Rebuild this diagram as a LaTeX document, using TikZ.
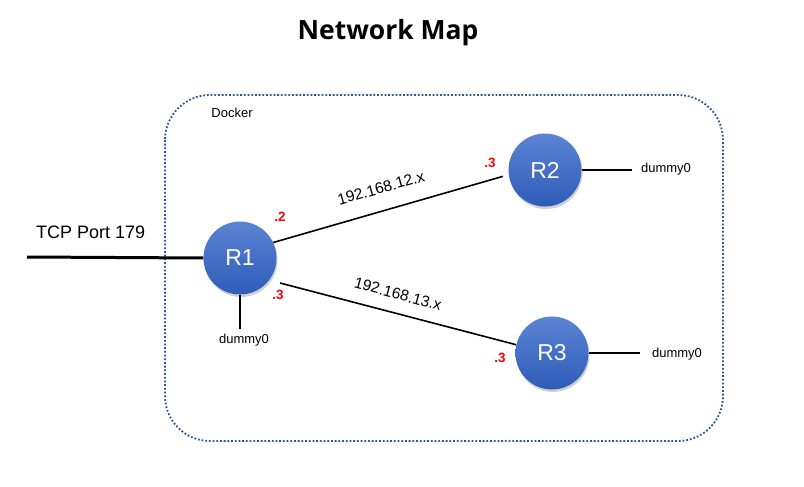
\documentclass[tikz,border=0pt]{standalone}
\usepackage{fontspec}
\setmainfont{Liberation Sans}
\newfontfamily\titlefont{Open Sans}
\usetikzlibrary{shadows,calc}
\definecolor{dockerblue}{HTML}{2F5597}
\definecolor{rtop}{HTML}{5C84D4}
\definecolor{rbot}{HTML}{2E5CB8}
\definecolor{ipred}{HTML}{FF0000}
\begin{document}
\begin{tikzpicture}[x=1pt,y=-1pt,
  router/.style={circle, minimum size=73pt, inner sep=0pt, top color=rtop, bottom color=rbot,
    text=white, font=\fontsize{23}{23}\selectfont,
    drop shadow={shadow xshift=1pt, shadow yshift=-2.5pt, opacity=.3, fill=black!60}},
  link/.style={line width=1.6pt, black},
  lbl/.style={font=\fontsize{13}{13}\selectfont, inner sep=0pt},
  iplbl/.style={font=\fontsize{15.5}{15.5}\selectfont, inner sep=0pt},
  redlbl/.style={font=\bfseries\fontsize{13.5}{13.5}\selectfont, text=ipred, inner sep=0pt}]
\useasboundingbox (0,0) rectangle (804,487);
\fill[white] (0,0) rectangle (804,487);
\node[font=\titlefont\bfseries\fontsize{26.5}{26.5}\selectfont, inner sep=0pt] (title) at (388,33) {Network Map};
\draw[dockerblue, line width=1.8pt, dash pattern=on 1.8pt off 1.9pt, rounded corners=45pt]
  (165,95) rectangle (723,441);
\node[lbl] (docker) at (232,113) {Docker};
\node[router] (R1) at (240,258) {R1};
\node[router] (R2) at (545,170) {R2};
\node[router] (R3) at (552,353) {R3};
\coordinate (tcpend) at (27,257);
\draw[line width=3pt] (tcpend) -- (R1.west);
\node[font=\fontsize{18}{18}\selectfont, inner sep=0pt, anchor=base west] (tcp) at (36,238) {TCP Port 179};
\draw[link] (R1.25) -- ([xshift=-6pt]R2.190);
\draw[link] ($(R1)+(40,25)$) -- (R3.167);
\node[iplbl, rotate=15.7] (ip12) at (381,188) {192.168.12.x};
\node[iplbl, rotate=-15.3] (ip13) at (398,294) {192.168.13.x};
\node[redlbl] (r1a) at (280,217) {.2};
\node[redlbl] (r1b) at (278,295) {.3};
\node[redlbl] (r2a) at (490,163) {.3};
\node[redlbl] (r3a) at (500,358) {.3};
\node[lbl] (d1) at (244,340) {dummy0};
\node[lbl] (d2) at (666,169) {dummy0};
\node[lbl] (d3) at (677,354) {dummy0};
\draw[link] (R1.south) -- ($(R1.south)+(0,34)$);
\draw[link] (R2.east) -- ($(R2.east)+(50,0)$);
\draw[link] (R3.east) -- ($(R3.east)+(51,0)$);
\end{tikzpicture}
\end{document}
